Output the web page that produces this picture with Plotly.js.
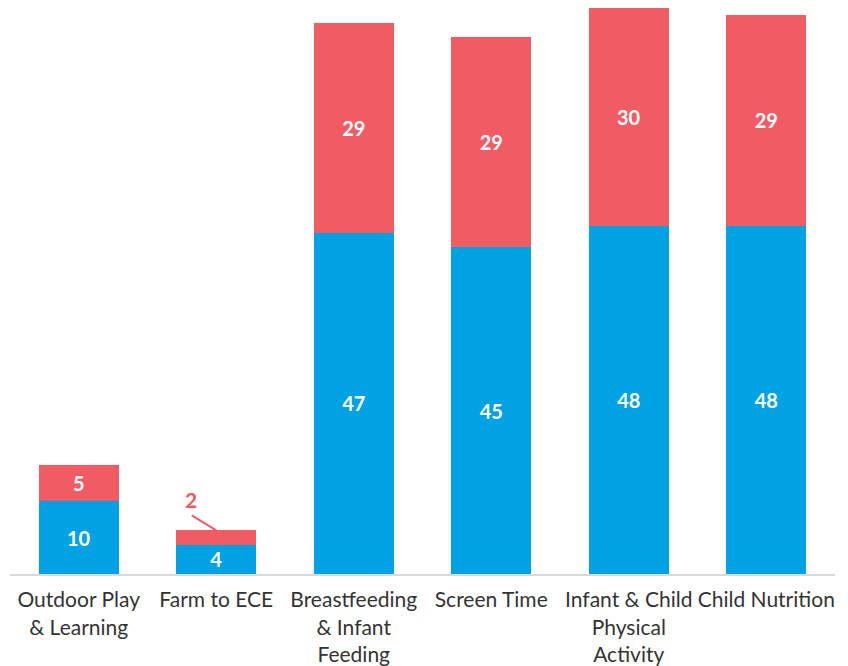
<!DOCTYPE html>
<html>
<head>
<meta charset="utf-8">
<script src="https://cdn.plot.ly/plotly-3.0.1.min.js"></script>
<style>html,body{margin:0;padding:0;background:#fff;}#chart{width:848px;height:666px;}</style>
</head>
<body>
<div id="chart"></div>
<script>
const categories = ["Outdoor Play<br>& Learning", "Farm to ECE", "Breastfeeding<br>& Infant<br>Feeding", "Screen Time", "Infant & Child<br>Physical<br>Activity", "Child Nutrition"];
const blueValues = [10, 4, 47, 45, 48, 48];
const redValues = [5, 2, 29, 29, 30, 29];
const redOutsideIndex = 1;

const blueText = blueValues.map(v => String(v));
const redText = redValues.map((v, i) => i === redOutsideIndex ? "" : String(v));

const font = "Lato, 'Open Sans', sans-serif";
const red = "#F05B64";

const traces = [
  {
    type: "bar", x: categories, y: blueValues, name: "A",
    marker: {color: "#00A2E3"},
    text: blueText, textposition: "inside", insidetextanchor: "middle", textangle: 0,
    textfont: {color: "#ffffff", size: 20, family: font, weight: "bold"},
    constraintext: "none", hoverinfo: "none"
  },
  {
    type: "bar", x: categories, y: redValues, name: "B",
    marker: {color: red},
    text: redText, textposition: "inside", insidetextanchor: "middle", textangle: 0,
    textfont: {color: "#ffffff", size: 20, family: font, weight: "bold"},
    constraintext: "none", hoverinfo: "none"
  }
];

const topY = blueValues[redOutsideIndex] + redValues[redOutsideIndex];

const layout = {
  width: 848, height: 666,
  margin: {l: 10, r: 13, t: 8, b: 92},
  barmode: "stack", bargap: 0.42,
  showlegend: false,
  paper_bgcolor: "#ffffff", plot_bgcolor: "#ffffff",
  font: {family: font, color: "#333333", size: 21},
  xaxis: {
    showline: true, linecolor: "#d9d9d9", linewidth: 2,
    ticks: "", showgrid: false, tickfont: {size: 21, color: "#333333"},
    tickangle: 0, ticklabelstandoff: 6
  },
  yaxis: {
    range: [0, 78], visible: false, showgrid: false, zeroline: false
  },
  annotations: [
    {
      x: categories[redOutsideIndex], y: topY,
      text: "", showarrow: true, arrowhead: 0, arrowwidth: 2, arrowcolor: red,
      ax: -26, ay: -16, standoff: 0
    },
    {
      x: categories[redOutsideIndex], y: topY,
      text: "<b>" + redValues[redOutsideIndex] + "</b>",
      showarrow: false, xshift: -25, yshift: 31,
      font: {color: red, size: 21, family: font}
    }
  ]
};

Plotly.newPlot("chart", traces, layout, {displayModeBar: false, staticPlot: true});
</script>
</body>
</html>
